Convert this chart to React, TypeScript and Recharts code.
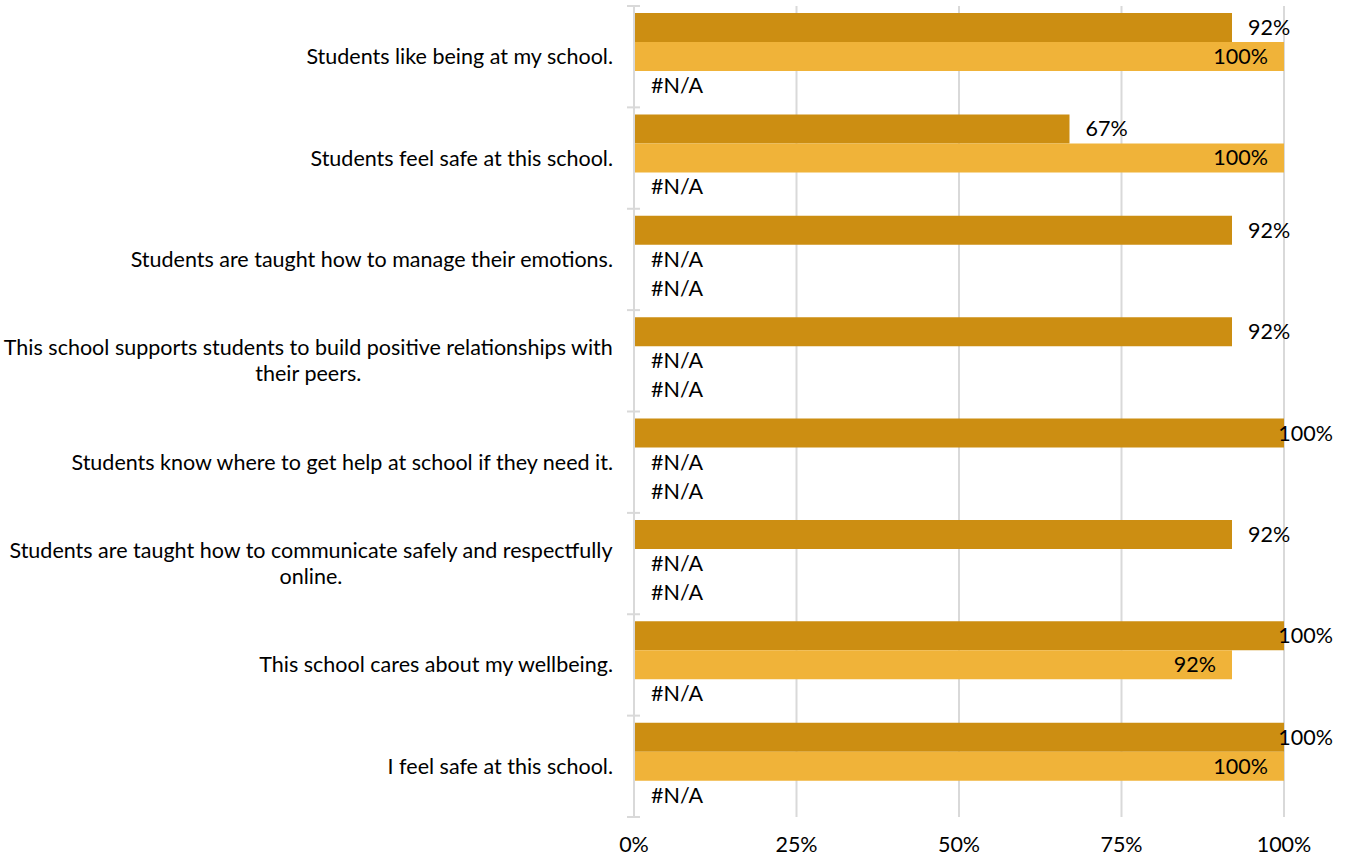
import React from 'react';
import { BarChart, Bar, XAxis, YAxis, CartesianGrid, LabelList } from 'recharts';

// Survey statements, top to bottom
const statements: string[] = [
  'Students like being at my school.',
  'Students feel safe at this school.',
  'Students are taught how to manage their emotions.',
  'This school supports students to build positive relationships with their peers.',
  'Students know where to get help at school if they need it.',
  'Students are taught how to communicate safely and respectfully online.',
  'This school cares about my wellbeing.',
  'I feel safe at this school.',
];

// Share of agreement per statement; null means no result (#N/A)
const currentYear: (number | null)[] = [0.92, 0.67, 0.92, 0.92, 1.0, 0.92, 1.0, 1.0];
const previousYear: (number | null)[] = [1.0, 1.0, null, null, null, null, 0.92, 1.0];
const earlierYear: (number | null)[] = [null, null, null, null, null, null, null, null];

const percentTicks: number[] = [0, 0.25, 0.5, 0.75, 1];

const data = statements.map((statement, i) => ({
  statement,
  current: currentYear[i],
  previous: previousYear[i],
  earlier: earlierYear[i],
}));

// Series stacked inside each category band, in drawing order
const groupSeries = [currentYear, previousYear, earlierYear];

const FONT = 'Lato, "Open Sans", sans-serif';
const FONT_SIZE = 21.5;
const TEXT_COLOR = '#000000';
const GRID_COLOR = '#d9d9d9';
const DARK_GOLD = '#CC8E12';
const LIGHT_GOLD = '#F0B339';
const CHART_W = 1347;
const CHART_H = 859;
const MARGIN = { top: 6, right: 63, bottom: 0, left: 0 };
const X_AXIS_H = 42;
const Y_AXIS_W = 634;
const Y_TICK_MARGIN = 21;
const LABEL_LIMIT = 1333;
const WRAP_WIDTH = 613;
const LINE_HEIGHT = 26;

const pct = (v: number) => `${Math.round(v * 100)}%`;

const textProps = {
  fontFamily: FONT,
  fontSize: FONT_SIZE,
  fill: TEXT_COLOR,
};

let measureCtx: CanvasRenderingContext2D | null = null;
function measure(s: string): number {
  if (!measureCtx && typeof document !== 'undefined') {
    measureCtx = document.createElement('canvas').getContext('2d');
  }
  if (!measureCtx) return s.length * FONT_SIZE * 0.5;
  measureCtx.font = `${FONT_SIZE}px Lato`;
  return measureCtx.measureText(s).width;
}

function wrapWords(s: string, maxWidth: number): string[] {
  const words = s.split(' ');
  const lines: string[] = [];
  let cur = '';
  for (const w of words) {
    const next = cur ? `${cur} ${w}` : w;
    if (cur && measure(next) > maxWidth) {
      lines.push(cur);
      cur = w;
    } else {
      cur = next;
    }
  }
  if (cur) lines.push(cur);
  return lines;
}

function readBox(props: any) {
  const vb = props.viewBox && props.viewBox.x != null ? props.viewBox : props;
  return {
    x: Number(vb.x ?? props.x ?? 0),
    y: Number(vb.y ?? props.y ?? 0),
    width: Number(vb.width ?? props.width ?? 0),
    height: Number(vb.height ?? props.height ?? 0),
  };
}

function naText(key: string, x: number, cy: number) {
  return (
    <text key={key} x={x + 17} y={cy} dy="0.35em" textAnchor="start" {...textProps}>
      #N/A
    </text>
  );
}

// Value just beyond the bar end (kept inside the chart area), plus #N/A
// markers for any series of the same group that has no result
function OutsideEndLabel(props: any) {
  const { x, y, width, height } = readBox(props);
  const value = props.value;
  const index = Number(props.index);
  const cy = y + height / 2;
  const parts: React.ReactNode[] = [];
  if (value == null) {
    parts.push(naText('own', x, cy));
  } else {
    const label = pct(value);
    const start = x + width + 16;
    const w = measure(label);
    const anchorEnd = start + w > LABEL_LIMIT;
    parts.push(
      <text
        key="own"
        x={anchorEnd ? LABEL_LIMIT : start}
        y={cy}
        dy="0.35em"
        textAnchor={anchorEnd ? 'end' : 'start'}
        {...textProps}
      >
        {label}
      </text>
    );
  }
  groupSeries.forEach((series, k) => {
    if (k === 0) return;
    if (series[index] == null) {
      parts.push(naText(`na-${k}`, x, y + height * (k + 0.5)));
    }
  });
  return <g>{parts}</g>;
}

// Value inside the bar, against its end
function InsideEndLabel(props: any) {
  const { x, y, width, height } = readBox(props);
  const value = props.value;
  if (value == null) return null;
  return (
    <text x={x + width - 16} y={y + height / 2} dy="0.35em" textAnchor="end" {...textProps}>
      {pct(value)}
    </text>
  );
}

// Wrapped statement, block right-aligned to the axis, lines centred in the block,
// with short tick marks on the band boundaries crossing the axis line
function StatementTick(props: any) {
  const { x, y, payload, index, visibleTicksCount } = props;
  const plotH = CHART_H - MARGIN.top - MARGIN.bottom - X_AXIS_H;
  const half =
    payload && typeof payload.offset === 'number' && payload.offset > 0
      ? payload.offset
      : plotH / statements.length / 2;
  const axisX = x + Y_TICK_MARGIN;
  const lines = wrapWords(String(payload.value), WRAP_WIDTH);
  const blockW = Math.max(...lines.map(measure));
  const cx = x - blockW / 2;
  const n = lines.length;
  const isLast = index === (visibleTicksCount ?? statements.length) - 1;
  return (
    <g>
      <line x1={axisX - 7} x2={axisX + 6} y1={y - half} y2={y - half} stroke={GRID_COLOR} strokeWidth={2} />
      {isLast && (
        <line x1={axisX - 7} x2={axisX + 6} y1={y + half} y2={y + half} stroke={GRID_COLOR} strokeWidth={2} />
      )}
      {lines.map((line, i) => (
        <text
          key={i}
          x={n === 1 ? x : cx}
          y={y + (i - (n - 1) / 2) * LINE_HEIGHT}
          dy="0.35em"
          textAnchor={n === 1 ? 'end' : 'middle'}
          {...textProps}
        >
          {line}
        </text>
      ))}
    </g>
  );
}

export default function App() {
  return (
    <div style={{ position: 'absolute', left: 0, top: 0 }}>
      <BarChart
        width={CHART_W}
        height={CHART_H}
        data={data}
        layout="vertical"
        margin={MARGIN}
        barCategoryGap={7}
        barGap={0}
      >
        <CartesianGrid horizontal={false} vertical={true} stroke={GRID_COLOR} strokeWidth={2} />
        <XAxis
          type="number"
          domain={[0, 1]}
          ticks={percentTicks}
          tickFormatter={pct}
          axisLine={false}
          tickLine={false}
          tickSize={0}
          tickMargin={20}
          height={X_AXIS_H}
          interval={0}
          tick={{ fontFamily: FONT, fontSize: FONT_SIZE, fill: TEXT_COLOR }}
        />
        <YAxis
          type="category"
          dataKey="statement"
          width={Y_AXIS_W}
          axisLine={{ stroke: GRID_COLOR, strokeWidth: 2 }}
          tickLine={false}
          tickSize={0}
          tickMargin={Y_TICK_MARGIN}
          interval={0}
          tick={<StatementTick />}
        />
        <Bar dataKey="current" fill={DARK_GOLD} isAnimationActive={false}>
          <LabelList dataKey="current" content={<OutsideEndLabel />} />
        </Bar>
        <Bar dataKey="previous" fill={LIGHT_GOLD} isAnimationActive={false}>
          <LabelList dataKey="previous" content={<InsideEndLabel />} />
        </Bar>
        <Bar dataKey="earlier" fill="#A5A5A5" isAnimationActive={false} />
      </BarChart>
    </div>
  );
}
